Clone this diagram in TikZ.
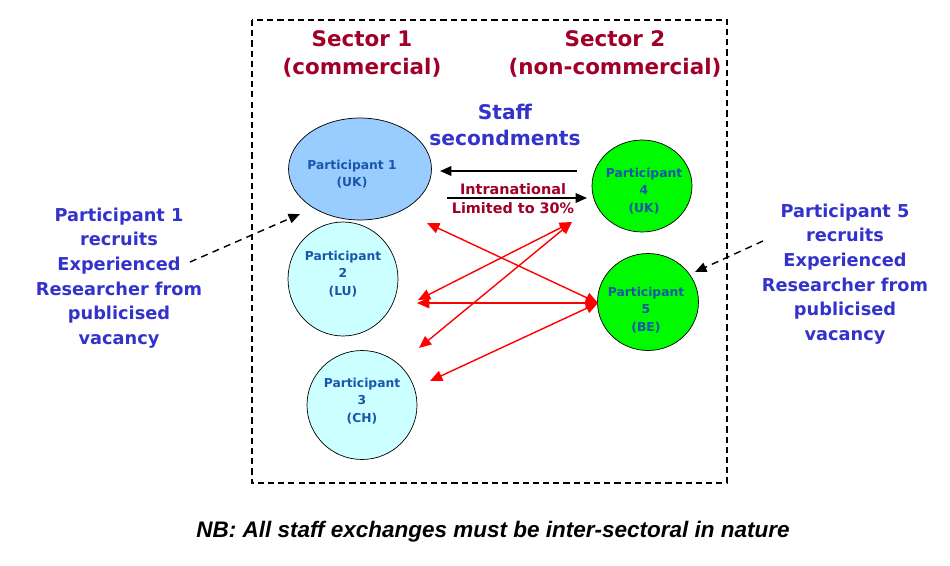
\documentclass[tikz,border=0pt]{standalone}
\usepackage{fontspec}
\setmainfont{DejaVu Sans}
\newfontfamily\nbfont{Liberation Sans}
\usetikzlibrary{arrows.meta,shapes.geometric}

\definecolor{sectorred}{RGB}{160,0,40}
\definecolor{notesblue}{RGB}{51,51,204}
\definecolor{partblue}{RGB}{25,85,170}
\definecolor{ukblue}{RGB}{153,204,255}
\definecolor{palecyan}{RGB}{204,255,255}
\definecolor{brightgreen}{RGB}{0,250,0}

\begin{document}
\begin{tikzpicture}
            [x=0.02cm, y=-0.02cm,
             sector/.style={text=sectorred, font=\fontsize{12.2}{15.9}\selectfont\bfseries, align=center},
             part/.style={draw, ellipse, inner sep=0pt},
             parttext/.style={text=partblue, align=center, inner sep=0pt,
                              font=\fontsize{7}{9.9}\selectfont\bfseries},
             recruit/.style={text=notesblue, align=center, font=\fontsize{10.1}{14}\selectfont\bfseries},
             exchange/.style={red, line width=0.8pt, {Triangle[length=7pt,width=6pt]}-{Triangle[length=7pt,width=6pt]}},
             secondment/.style={black, line width=0.8pt, -{Triangle[length=6.5pt,width=5.5pt]}},
             hire/.style={black, line width=0.8pt, dash pattern=on 4pt off 3pt, -{Triangle[length=6.5pt,width=5.5pt]}}]
            \useasboundingbox (0,0) rectangle (950,565);

            % Draw the dashed frame
            \draw[line width=0.9pt, dash pattern=on 3.5pt off 2.3pt] (252,20) rectangle (727,483);

            % Sector headings
            \node[sector] (sec1) at (362,54) {Sector 1\\(commercial)};
            \node[sector] (sec2) at (615,54) {Sector 2\\(non-commercial)};
            \node[text=notesblue, align=center, font=\fontsize{11.5}{14.7}\selectfont\bfseries]
                (staff) at (505,125) {Staff\\secondments};

            % The participants
            \node[part, fill=ukblue, minimum width=2.86cm, minimum height=2.04cm] (p1) at (360,169) {};
            \node[part, fill=palecyan, minimum width=2.2cm, minimum height=2.28cm] (p2) at (343,279) {};
            \node[part, fill=palecyan, minimum width=2.2cm, minimum height=2.18cm] (p3) at (362,405) {};
            \node[part, fill=brightgreen, minimum width=2.0cm, minimum height=1.84cm] (p4) at (642,186) {};
            \node[part, fill=brightgreen, minimum width=2.02cm, minimum height=1.94cm] (p5) at (648,302) {};
            \node[parttext] (p1t) at (352,174) {Participant 1\\(UK)};        % Sector 1, top
            \node[parttext] (p2t) at (343,274) {Participant\\2\\(LU)};       % Sector 1, middle
            \node[parttext] (p3t) at (362,401) {Participant\\3\\(CH)};       % Sector 1, bottom
            \node[parttext] (p4t) at (644,191) {Participant\\4\\(UK)};       % Sector 2, top
            \node[parttext] (p5t) at (646,310) {Participant\\5\\(BE)};       % Sector 2, bottom

            % Ends of the secondment arrows
            \coordinate (p1e) at (427,223);
            \coordinate (p2a) at (418,300);
            \coordinate (p2b) at (417,303);
            \coordinate (p3a) at (419,348);
            \coordinate (p3b) at (430,381);
            \coordinate (p4w) at (572,222);
            \coordinate (p5w) at (598,303);
            \coordinate (p4in) at (577,171);
            \coordinate (p1in) at (440,171);
            \coordinate (p1out) at (447,198);
            \coordinate (p4out) at (587,198);

            % Staff secondments
            \draw[secondment] (p4in) -- (p1in);
            \draw[secondment] (p1out) -- (p4out);
            \node[text=sectorred, align=center, font=\fontsize{8.2}{10.8}\selectfont\bfseries]
                (intra) at (513,199) {Intranational\\Limited to 30\%};

            \draw[exchange] (p1e) -- (p5w);
            \draw[exchange] (p2a) -- (p4w);
            \draw[exchange] (p2b) -- (p5w);
            \draw[exchange] (p3a) -- (p4w);
            \draw[exchange] (p3b) -- (p5w);

            % Recruitment notes
            \node[recruit] (rec1) at (119,278)
                {Participant 1\\recruits\\Experienced\\Researcher from\\publicised\\vacancy};
            \node[recruit] (rec5) at (845,274)
                {Participant 5\\recruits\\Experienced\\Researcher from\\publicised\\vacancy};
            \coordinate (rec1e) at (190,262);
            \coordinate (p1sw) at (300,214);
            \coordinate (rec5w) at (763,241);
            \coordinate (p5ne) at (695,272);
            \draw[hire] (rec1e) -- (p1sw);
            \draw[hire] (rec5w) -- (p5ne);

            % Footnote
            \node[font=\fontsize{12.8}{15}\selectfont\nbfont\bfseries\itshape]
                (nb) at (493,532) {NB: All staff exchanges must be inter-sectoral in nature};
        \end{tikzpicture}
\end{document}
